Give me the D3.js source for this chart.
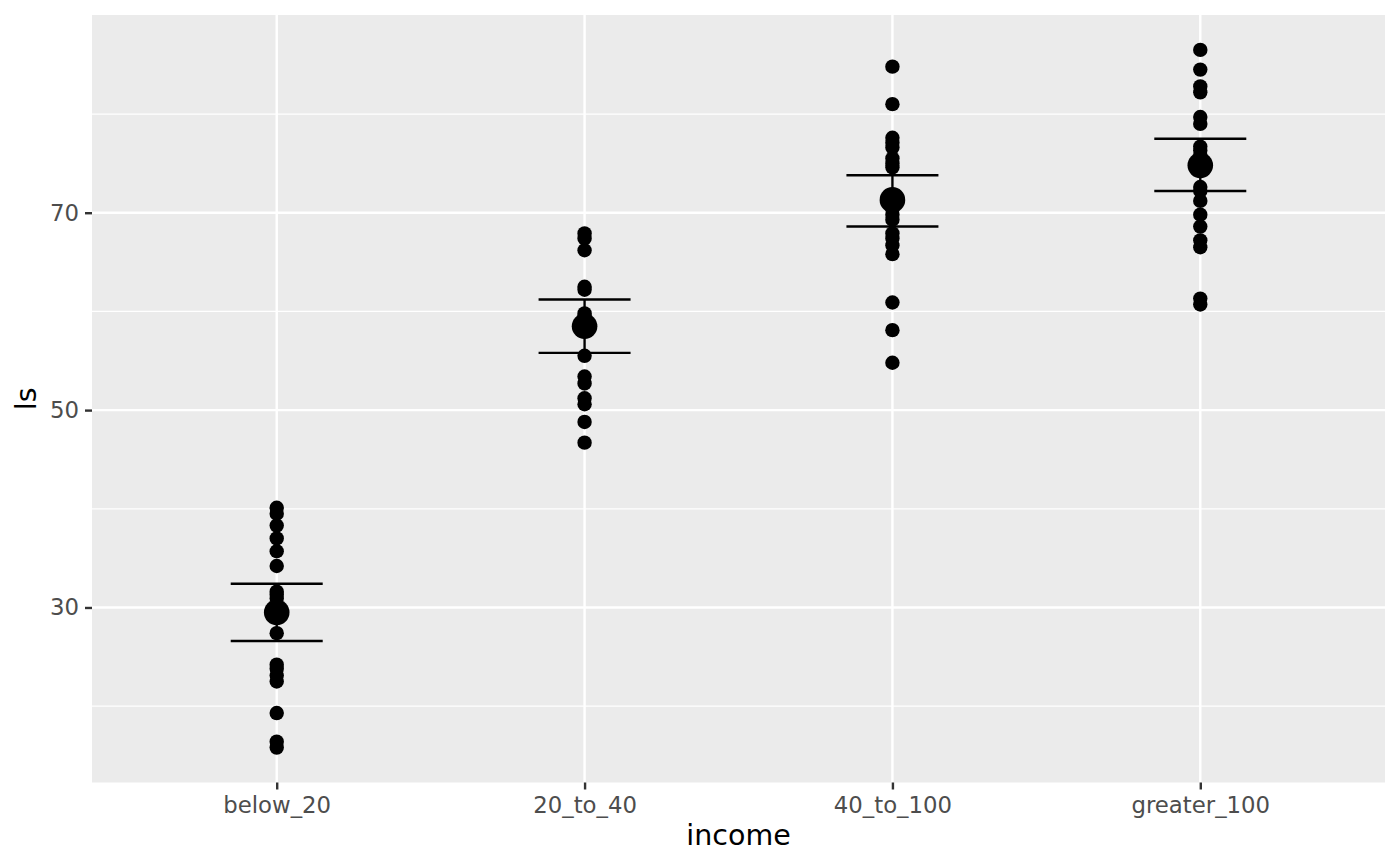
<!DOCTYPE html>
<html lang="en">
<head>
    <meta charset="UTF-8" />
    <title>ls by income</title>
    <script src="https://d3js.org/d3.v7.min.js"></script>
    <style>
        body { margin: 0; background: #ffffff; }
        text { font-family: "DejaVu Sans", sans-serif; }
    </style>
</head>
<body>
    <script>
        var w = 1400;
        var h = 866;
        var margin = { top: 15, right: 15, bottom: 83.5, left: 92 };

        // Data
        var categories = ["below_20", "20_to_40", "40_to_100", "greater_100"];
        var lsBelow20 = [40.1, 39.5, 38.3, 37.0, 35.7, 34.2, 31.6, 31.3, 30.9, 27.4, 24.2, 23.8, 23.1, 22.5, 19.3, 16.4, 15.8];
        var ls20to40 = [67.9, 67.4, 66.2, 62.5, 62.2, 59.8, 59.5, 59.1, 55.5, 53.4, 52.7, 51.2, 50.6, 48.8, 46.7];
        var ls40to100 = [84.8, 81.0, 77.6, 77.1, 76.6, 75.5, 75.0, 74.6, 70.4, 69.8, 69.3, 67.9, 67.4, 66.7, 65.8, 60.9, 58.1, 54.8];
        var lsGreater100 = [86.5, 84.5, 82.8, 82.2, 79.7, 79.0, 76.7, 76.3, 75.8, 72.6, 72.2, 71.2, 69.8, 68.6, 67.2, 66.5, 61.3, 60.7];
        var groupMeans = [29.5, 58.5, 71.3, 74.8];
        var groupLower = [26.6, 55.8, 68.6, 72.2];
        var groupUpper = [32.4, 61.2, 73.8, 77.5];
        var yMajorTicks = [30, 50, 70];
        var yMinorTicks = [20, 40, 60, 80];

        var groups = [lsBelow20, ls20to40, ls40to100, lsGreater100];
        var points = [];
        groups.forEach(function(g, i) {
            g.forEach(function(v) {
                points.push({ cat: categories[i], ls: v });
            });
        });

        var svg = d3.select("body")
            .append("svg")
            .attr("width", w)
            .attr("height", h);

        var pw = w - margin.left - margin.right;
        var ph = h - margin.top - margin.bottom;

        var g = svg.append("g")
            .attr("transform", "translate(" + margin.left + "," + margin.top + ")");

        // Scales (ggplot style expansion)
        var xScale = d3.scalePoint()
            .domain(categories)
            .range([0, pw])
            .padding(0.6);

        var all = points.map(function(d) { return d.ls; });
        var lo = d3.min(all), hi = d3.max(all);
        var pad = (hi - lo) * 0.05;
        var yScale = d3.scaleLinear()
            .domain([lo - pad, hi + pad])
            .range([ph, 0]);

        // Panel
        g.append("rect")
            .attr("width", pw)
            .attr("height", ph)
            .attr("fill", "#EBEBEB");

        // Grid lines
        g.selectAll(".minor")
            .data(yMinorTicks)
            .enter()
            .append("line")
            .attr("x1", 0)
            .attr("x2", pw)
            .attr("y1", function(d) { return yScale(d); })
            .attr("y2", function(d) { return yScale(d); })
            .attr("stroke", "#ffffff")
            .attr("stroke-width", 1.2);

        g.selectAll(".major")
            .data(yMajorTicks)
            .enter()
            .append("line")
            .attr("x1", 0)
            .attr("x2", pw)
            .attr("y1", function(d) { return yScale(d); })
            .attr("y2", function(d) { return yScale(d); })
            .attr("stroke", "#ffffff")
            .attr("stroke-width", 2.4);

        g.selectAll(".xmajor")
            .data(categories)
            .enter()
            .append("line")
            .attr("x1", function(d) { return xScale(d); })
            .attr("x2", function(d) { return xScale(d); })
            .attr("y1", 0)
            .attr("y2", ph)
            .attr("stroke", "#ffffff")
            .attr("stroke-width", 2.4);

        // Axes
        var xAxis = g.append("g")
            .attr("transform", "translate(0," + ph + ")")
            .call(d3.axisBottom(xScale).tickSize(7).tickPadding(7));

        var yAxis = g.append("g")
            .call(d3.axisLeft(yScale).tickValues(yMajorTicks).tickSize(7).tickPadding(6));

        [xAxis, yAxis].forEach(function(ax) {
            ax.select(".domain").remove();
            ax.selectAll(".tick line")
                .attr("stroke", "#333333")
                .attr("stroke-width", 2.4);
            ax.selectAll(".tick text")
                .attr("fill", "#4D4D4D")
                .style("font-size", "22.8px")
                .style("font-family", "DejaVu Sans, sans-serif");
        });

        // Raw points
        g.selectAll(".pt")
            .data(points)
            .enter()
            .append("circle")
            .attr("cx", function(d) { return xScale(d.cat); })
            .attr("cy", function(d) { return yScale(d.ls); })
            .attr("r", 7.2)
            .attr("fill", "#000000");

        // Error bars
        var halfWidth = 46;
        categories.forEach(function(c, i) {
            var x = xScale(c);
            g.append("line")
                .attr("x1", x).attr("x2", x)
                .attr("y1", yScale(groupLower[i]))
                .attr("y2", yScale(groupUpper[i]))
                .attr("stroke", "#000").attr("stroke-width", 2.4);
            [groupLower[i], groupUpper[i]].forEach(function(v) {
                g.append("line")
                    .attr("x1", x - halfWidth).attr("x2", x + halfWidth)
                    .attr("y1", yScale(v)).attr("y2", yScale(v))
                    .attr("stroke", "#000").attr("stroke-width", 2.4);
            });
        });

        // Means
        g.selectAll(".mean")
            .data(groupMeans)
            .enter()
            .append("circle")
            .attr("cx", function(d, i) { return xScale(categories[i]); })
            .attr("cy", function(d) { return yScale(d); })
            .attr("r", 12.8)
            .attr("fill", "#000000");

        // Axis titles
        svg.append("text")
            .attr("x", margin.left + pw / 2)
            .attr("y", 845)
            .attr("text-anchor", "middle")
            .style("font-size", "28.5px")
            .attr("fill", "#000")
            .text("income");

        svg.append("text")
            .attr("transform", "translate(36," + (margin.top + ph / 2) + ") rotate(-90)")
            .attr("text-anchor", "middle")
            .style("font-size", "28.5px")
            .attr("fill", "#000")
            .text("ls");
    </script>
</body>
</html>
